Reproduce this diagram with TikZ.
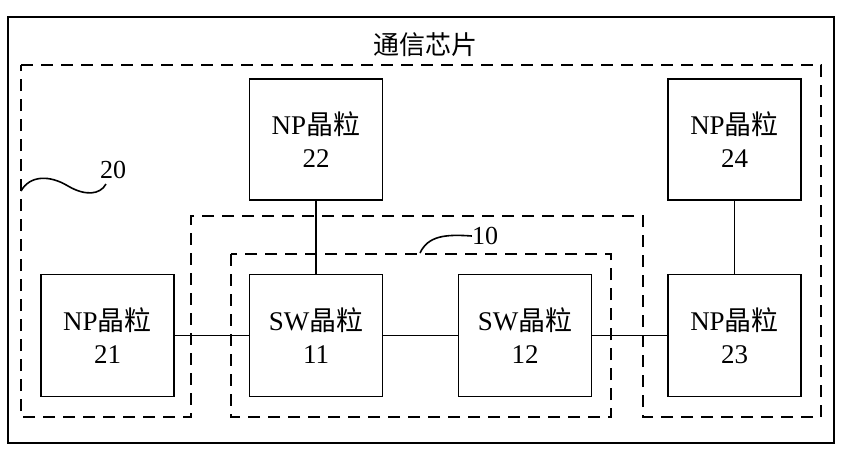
\documentclass[tikz,border=0pt]{standalone}
\usepackage{fontspec}
\setmainfont{Liberation Serif}
\newfontfamily\cjk{Noto Sans CJK SC}
\begin{document}
\begin{tikzpicture}[x=1pt,y=-1pt,
  die/.style={draw,line width=1.4pt,minimum width=133pt,minimum height=122pt,inner sep=0pt,
    align=center,font=\fontsize{27}{33}\selectfont},
  region/.style={draw,line width=1.8pt,dash pattern=on 12pt off 8pt},
  link/.style={draw,line width=1.4pt},
  lbl/.style={font=\fontsize{26}{30}\selectfont,inner sep=0pt}]
\useasboundingbox (0,0) rectangle (850,453);
\fill[white] (0,0) rectangle (850,453);
% outer chip
\draw[line width=1.5pt] (8,17) rectangle (834,443);
\node[lbl] (chip) at (425,45) {\cjk 通信芯片};
% region 20
\draw[region] (21,65) -- (821,65) -- (821,417) -- (643,417) -- (643,216) -- (191,216) -- (191,417) -- (21,417) -- cycle;
% region 10
\draw[region] (231,254) rectangle (611,417);
% dies
\node[die] (np21) at (107.5,335.5) {NP{\cjk 晶粒}\\21};
\node[die] (sw11) at (316,335.5) {SW{\cjk 晶粒}\\11};
\node[die] (sw12) at (525,335.5) {SW{\cjk 晶粒}\\12};
\node[die] (np23) at (734.5,335.5) {NP{\cjk 晶粒}\\23};
\node[die,minimum height=121pt] (np22) at (316,139.5) {NP{\cjk 晶粒}\\22};
\node[die,minimum height=121pt] (np24) at (734.5,139.5) {NP{\cjk 晶粒}\\24};
% links
\draw[link] (np21.east) -- (sw11.west);
\draw[link] (sw11.east) -- (sw12.west);
\draw[link] (sw12.east) -- (np23.west);
\draw[link] (np22.south) -- (sw11.north);
\draw[link] (np24.south) -- (np23.north);
% reference labels
\node[lbl] (l20) at (113,170) {20};
\coordinate (c20) at (21,191);
\draw[line width=1.6pt] (c20) .. controls (30,175) and (50,175) .. (68,186) .. controls (85,196) and (100,195) .. (106,184);
\node[lbl] (l10) at (485,236) {10};
\coordinate (c10) at (420,253);
\draw[line width=1.6pt] (c10) .. controls (428,236) and (445,234) .. (l10.west);
\end{tikzpicture}
\end{document}
